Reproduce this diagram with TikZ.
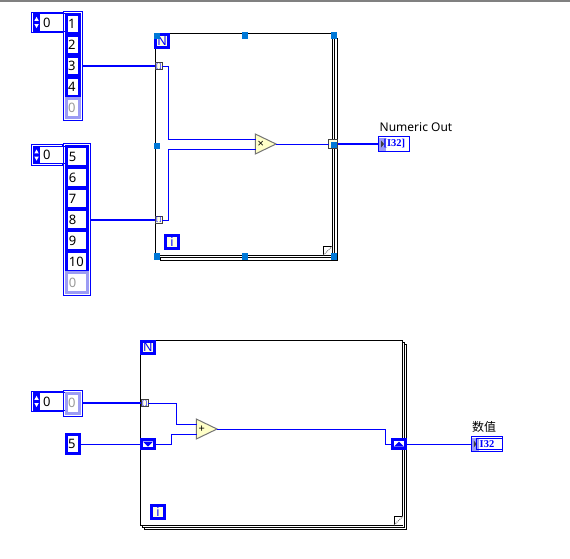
\documentclass[tikz,border=0pt]{standalone}
\usepackage{fontspec}
\setmainfont{Noto Sans}
\newfontfamily\cjk{Noto Sans CJK SC}
\newfontfamily\typefont{Liberation Serif}
\usetikzlibrary{positioning,fit,shapes.geometric}
\definecolor{wire}{HTML}{0000FF}
\definecolor{handle}{HTML}{0078D7}
\definecolor{pale}{HTML}{FFFFE1}
\definecolor{cream}{HTML}{FFFFC8}
\definecolor{lilac}{HTML}{9C9CF4}
\tikzset{
  loopbox/.style={draw=black, line width=1pt, fill=white, rectangle, inner sep=0pt, outer sep=0pt, anchor=north west},
  foldbox/.style={fill=white, rectangle, inner sep=0pt, outer sep=0pt, minimum size=8.6pt, anchor=south east},
  elem/.style={draw=wire, line width=3pt, fill=white, rectangle, inner sep=0pt, inner xsep=2pt, outer sep=0pt, minimum height=19.8pt, text width=#1, align=left, font=\fontsize{13}{13}\selectfont},
  ghost/.style={draw=lilac, text=black!40},
  arrbox/.style={draw=wire, line width=1pt, rectangle, inner sep=3pt, outer sep=0pt},
  idxbox/.style={draw=wire, line width=1pt, fill=white, rectangle, inner sep=0pt, outer sep=0pt, minimum width=30.7pt, minimum height=20.6pt, anchor=north west},
  idxval/.style={draw=wire, line width=1pt, fill=white, rectangle, inner sep=0pt, inner xsep=10pt, outer sep=0pt, minimum width=28pt, minimum height=17.7pt, text width=16pt, align=left, font=\fontsize{13}{13}\selectfont},
  spin/.style={fill=wire, rectangle, inner sep=0pt, outer sep=0pt, minimum width=6.7pt, minimum height=17.7pt},
  tagbox/.style={draw=wire, line width=3pt, fill=pale, rectangle, inner sep=0pt, outer sep=0pt, minimum size=12.6pt, text=wire, font=\fontsize{12.5}{12.5}\selectfont\bfseries},
  tunnel/.style={draw=black!75, line width=1pt, fill=pale, rectangle, inner sep=0pt, outer sep=0pt, minimum size=7pt, text=wire, font=\fontsize{6.5}{6.5}\selectfont\bfseries},
  srbox/.style={draw=wire, line width=3pt, fill=white, rectangle, inner sep=0pt, outer sep=0pt, minimum width=12.6pt, minimum height=8.6pt},
  prim/.style={draw=black!55, line width=1pt, fill=cream, isosceles triangle, isosceles triangle stretches, shape border rotate=0, inner sep=0pt, outer sep=0pt, minimum width=20pt, minimum height=20.7pt, anchor=apex, font=\fontsize{11}{11}\selectfont\bfseries, text=black},
  hbox/.style={fill=handle, rectangle, inner sep=0pt, outer sep=0pt, minimum size=6.5pt},
  indbox/.style={draw=wire, line width=1pt, fill=white, rectangle, inner sep=0pt, outer sep=0pt, minimum width=31pt, minimum height=15pt, anchor=west},
  indin/.style={draw=wire, line width=.8pt, rectangle, inner sep=0pt, outer sep=0pt, minimum width=26pt, minimum height=11.5pt, anchor=east},
  indtab/.style={fill=lilac, rectangle, inner sep=0pt, outer sep=0pt, minimum width=7.5pt, minimum height=13pt, anchor=west},
  indtxt/.style={inner sep=0pt, text=wire, font=\fontsize{10.5}{10.5}\typefont\bfseries},
  wirethin/.style={draw=wire, line width=1pt},
  wirethick/.style={draw=wire, line width=2pt},
  caplbl/.style={inner sep=0pt, anchor=base west, font=\fontsize{12}{12}\selectfont},
}
\newcommand{\spinbox}[2]{%
  \node[idxbox] (#1) at (#2) {};
  \node[idxval, anchor=north west, xshift=1.7pt, yshift=-1.4pt] (#1v) at (#1.north west) {0};
  \node[spin, anchor=west] (#1s) at (#1v.west) {};
  \fill[white] (#1s.center) ++(-2.2,-1.6) -- ++(4.4,0) -- ++(-2.2,-4) -- cycle;
  \fill[white] (#1s.center) ++(-2.2,1.6) -- ++(4.4,0) -- ++(-2.2,4) -- cycle;
}
\newcommand{\indicator}[3]{%
  \node[indbox] (#1) at (#2) {};
  \node[indtab] (#1t) at (#1.west) {};
  \fill[black!75] (#1t.center) ++(-1.5,-3.5) -- ++(3,3.5) -- ++(-3,3.5) -- cycle;
  \node[indtxt] (#1x) at (#1) {#3};
}
\newcommand{\foldcorner}[2]{%
  \node[foldbox] (#1) at (#2.south east) {};
  \draw[black, line width=1pt] (#1.south west) -- (#1.north west) -- (#1.north east);
  \draw[black!60, densely dotted, line width=.9pt] (#1.south west) -- (#1.north east);
}

\begin{document}
\begin{tikzpicture}[x=1pt, y=-1pt]
\useasboundingbox (0,0) rectangle (570,558);
\coordinate (ruleL) at (0,1);
\coordinate (ruleR) at (570,1);
\draw[black!50, line width=1.5pt] (ruleL) -- (ruleR);
% first loop
\node[loopbox, minimum width=177pt, minimum height=221.5pt] (fora3) at (160,38.5) {};
\node[loopbox, minimum width=177pt, minimum height=221.5pt] (fora2) at (157.5,36) {};
\node[loopbox, minimum width=177pt, minimum height=221.5pt] (fora) at (155,33.5) {};
\foldcorner{folda}{fora}
\node[tagbox] (na) at (162.2,40.8) {N};
\node[tagbox] (ia) at (172,242) {i};
% second loop
\node[loopbox, minimum width=262.4pt, minimum height=185pt] (forb3) at (144.3,344) {};
\node[loopbox, minimum width=262.4pt, minimum height=185pt] (forb2) at (142.3,342) {};
\node[loopbox, minimum width=262.4pt, minimum height=185pt] (forb) at (140.3,340) {};
\foldcorner{foldb}{forb}
\node[tagbox] (nb) at (147.8,347.5) {N};
\node[tagbox] (ib) at (158,512) {i};
% arrays
\spinbox{idxa}{31.5,12.2}
\node[elem=9.1pt] (a1) at (72.7,24) {1};
\node[elem=9.1pt, below=1.2pt of a1] (a2) {2};
\node[elem=9.1pt, below=1.2pt of a2] (a3) {3};
\node[elem=9.1pt, below=1.2pt of a3] (a4) {4};
\node[elem=9.1pt, ghost, below=1.2pt of a4] (a5) {0};
\node[arrbox, fit=(a1)(a5)] (arra) {};
\spinbox{idxb}{31.5,144.8}
\node[elem=16.7pt] (b1) at (77.3,156.7) {5};
\node[elem=16.7pt, below=1.2pt of b1] (b2) {6};
\node[elem=16.7pt, below=1.2pt of b2] (b3) {7};
\node[elem=16.7pt, below=1.2pt of b3] (b4) {8};
\node[elem=16.7pt, below=1.2pt of b4] (b5) {9};
\node[elem=16.7pt, below=1.2pt of b5] (b6) {10};
\node[elem=16.7pt, ghost, below=1.2pt of b6] (b7) {0};
\node[arrbox, fit=(b1)(b7)] (arrb) {};
\spinbox{idxc}{31.5,391.2}
\node[elem=9.1pt, ghost] (c1) at (72.7,403.2) {0};
\node[arrbox, fit=(c1)] (arrc) {};
\node[elem=9.1pt] (five) at (72.7,444) {5};
% inside the loops
\node[tunnel] (tuna) at (158.8,66.4) {[\,]};
\node[tunnel] (tunb) at (158.8,220) {[\,]};
\node[tunnel] (tunc) at (144.7,403.2) {[\,]};
\node[tunnel, minimum size=9pt] (tund) at (333,144) {};
\node[srbox] (srd) at (148,444) {};
\node[srbox] (sru) at (399,444) {};
\fill[wire] (srd.center) ++(-5,-2.5) -- ++(10,0) -- ++(-5,5) -- cycle;
\fill[wire] (sru.center) ++(-5,2.5) -- ++(10,0) -- ++(-5,-5) -- cycle;
\node[prim] (mul) at (276,144) {×};
\node[prim] (add) at (217,429) {+};
\coordinate (mula) at (255.5,139.4);
\coordinate (mulb) at (255.5,149.3);
\coordinate (adda) at (196.5,424.3);
\coordinate (addb) at (196.5,434.3);
% terminals
\indicator{inda}{378.8,144}{[I32]}
\indicator{indb}{471.5,444}{I32}
\node[indin] (indbf) at (indb.east) {};
\node[caplbl] (lbla) at (379.5,131) {Numeric Out};
\node[caplbl] (lblb) at (472,431) {\cjk 数值};
% wires
\draw[wirethick] (arra.east |- tuna) -- (tuna.west);
\draw[wirethick] (arrb.east |- tunb) -- (tunb.west);
\draw[wirethick] (arrc.east) -- (tunc.west);
\draw[wirethick] (tund.east) -- (inda.west);
\draw[wirethin] (tuna.east) -- ++(6.6,0) |- (mula);
\draw[wirethin] (tunb.east) -- ++(6.6,0) |- (mulb);
\draw[wirethin] (tunc.east) -- ++(27.8,0) |- (adda);
\draw[wirethin] (srd.east) -- ++(17.1,0) |- (addb);
\draw[wirethin] (five.east) -- (srd.west);
\draw[wirethin] (mul.apex) -- (tund.west);
\draw[wirethin] (add.apex) -- ++(168.3,0) |- (sru.west);
\draw[wirethin] (sru.east) -- (indb.west);
% resize handles
\foreach \n/\p in {h1/{157,36},h2/{245,35.5},h3/{334,35.5},h4/{157,146},h5/{334,145},h6/{157,256.5},h7/{245,256.5},h8/{334,256.5}} \node[hbox] (\n) at (\p) {};
\end{tikzpicture}
\end{document}
